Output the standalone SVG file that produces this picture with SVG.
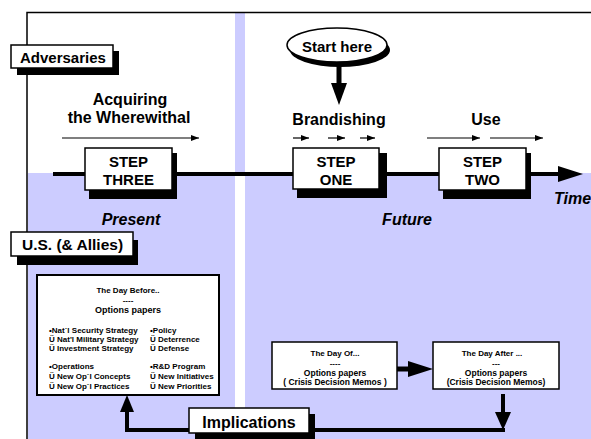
<svg xmlns="http://www.w3.org/2000/svg" width="591" height="439" viewBox="0 0 591 439">
  <style>
    text { font-family: "Liberation Sans", Arial, sans-serif; font-weight: bold; fill: #000; }
    .lbl { font-size: 15px; }
    .cap { font-size: 16px; text-anchor: middle; }
    .step { font-size: 15px; text-anchor: middle; }
    .it { font-style: italic; font-size: 16px; }
    .mid { text-anchor: middle; }
    .sm { font-size: 8px; }
    .md { font-size: 9px; }
    .memo { font-size: 8.5px; }
    .box { fill: #fff; stroke: #000; stroke-width: 1.5; }
    .shadow { fill: #000; }
    .thin { stroke: #000; stroke-width: 1.2; fill: none; }
    .thick { stroke: #000; stroke-width: 4; fill: none; }
  </style>
  <defs>
    <marker id="head" viewBox="0 0 8 6" refX="8" refY="3" markerWidth="8" markerHeight="6" markerUnits="userSpaceOnUse" orient="auto">
      <path d="M0,0 L8,3 L0,6 Z" fill="#000"/>
    </marker>
  </defs>

  <!-- background zones -->
  <rect x="0" y="0" width="591" height="439" fill="#fff"/>
  <rect x="235" y="12" width="10" height="162" fill="#ccccff"/>
  <rect x="28" y="173" width="207" height="266" fill="#ccccff"/>
  <rect x="245" y="173" width="346" height="266" fill="#ccccff"/>
  <!-- frame -->
  <path d="M27,439 V12.5 H591" stroke="#000" stroke-width="1.5" fill="none"/>

  <!-- connectors -->
  <g id="connectors">
    <!-- time axis -->
    <line x1="53" y1="174" x2="560" y2="174" class="thick"/>
    <polygon points="558,166 583,174 558,182" fill="#000"/>
    <!-- start here arrow -->
    <line x1="339" y1="62" x2="339" y2="85" stroke="#000" stroke-width="5"/>
    <polygon points="331,83 347,83 339,105" fill="#000"/>
    <!-- phase arrows -->
    <line x1="62" y1="138" x2="199" y2="138" class="thin" marker-end="url(#head)"/>
    <line x1="293" y1="138" x2="309" y2="138" class="thin" marker-end="url(#head)"/>
    <line x1="328" y1="138" x2="345" y2="138" class="thin" marker-end="url(#head)"/>
    <line x1="360" y1="138" x2="375" y2="138" class="thin" marker-end="url(#head)"/>
    <line x1="427" y1="138" x2="480" y2="138" class="thin" marker-end="url(#head)"/>
    <line x1="490" y1="138" x2="543" y2="138" class="thin" marker-end="url(#head)"/>
    <!-- day of to day after -->
    <line x1="397" y1="369" x2="410" y2="369" stroke="#000" stroke-width="5"/>
    <polygon points="408,361 433,369 408,377" fill="#000"/>
    <!-- feedback loop -->
    <path d="M503,394 V414" stroke="#000" stroke-width="4"/>
    <polygon points="495,412 511,412 503,430" fill="#000"/>
    <path d="M505,430 H127 V410" class="thick"/>
    <polygon points="120,412 134,412 127,395" fill="#000"/>
  </g>

  <!-- phase captions -->
  <g id="phases">
    <text class="cap" x="130" y="105">Acquiring</text>
    <text class="cap" x="129" y="123">the Wherewithal</text>
    <text class="cap" x="339" y="125">Brandishing</text>
    <text class="cap" x="486" y="125">Use</text>
    <text class="it mid" x="131" y="225">Present</text>
    <text class="it mid" x="407" y="225">Future</text>
    <text class="it" x="554" y="204">Time</text>
  </g>

  <g id="adversaries">
    <rect class="shadow" x="17" y="51" width="102" height="24"/>
    <rect class="box" x="11" y="45" width="102" height="23"/>
    <text class="lbl" x="20" y="63">Adversaries</text>
  </g>

  <g id="allies">
    <rect class="shadow" x="17" y="240" width="121" height="25"/>
    <rect class="box" x="11" y="232" width="122" height="24"/>
    <text class="lbl" style="font-size:15.5px" x="22" y="250">U.S. (&amp; Allies)</text>
  </g>

  <g id="start-here">
    <ellipse cx="340" cy="50" rx="50" ry="17" fill="#000"/>
    <ellipse cx="337" cy="45" rx="50" ry="17" fill="#fff" stroke="#000" stroke-width="1.5"/>
    <text class="lbl mid" x="337" y="52">Start here</text>
  </g>

  <g id="step-three">
    <rect class="shadow" x="89" y="153" width="88" height="46"/>
    <rect class="box" x="85" y="148" width="87" height="42"/>
    <text class="step" x="128.5" y="167">STEP</text>
    <text class="step" x="128.5" y="185">THREE</text>
  </g>

  <g id="step-one">
    <rect class="shadow" x="297" y="153" width="90" height="45"/>
    <rect class="box" x="293" y="148" width="86" height="41"/>
    <text class="step" x="336" y="167">STEP</text>
    <text class="step" x="336" y="185">ONE</text>
  </g>

  <g id="step-two">
    <rect class="shadow" x="443" y="153" width="88" height="46"/>
    <rect class="box" x="439" y="148" width="87" height="42"/>
    <text class="step" x="482.5" y="167">STEP</text>
    <text class="step" x="482.5" y="185">TWO</text>
  </g>

  <g id="day-before">
    <rect x="37" y="275" width="182" height="120" fill="#fff" stroke="#000" stroke-width="2"/>
    <text class="sm mid" x="128" y="293">The Day  Before..</text>
    <text class="sm mid" x="128" y="303">----</text>
    <text class="md mid" x="128" y="313">Options papers</text>
    <text class="sm" x="49" y="333">•Nat`l Security Strategy</text>
    <text class="sm" x="49" y="342">Ü Nat'l Military Strategy</text>
    <text class="sm" x="49" y="351">Ü Investment Strategy</text>
    <text class="sm" x="49" y="369">•Operations</text>
    <text class="sm" x="49" y="379">Ü New Op`l Concepts</text>
    <text class="sm" x="49" y="389">Ü New Op`l Practices</text>
    <text class="sm" x="150" y="333">•Policy</text>
    <text class="sm" x="150" y="342">Ü Deterrence</text>
    <text class="sm" x="150" y="351">Ü Defense</text>
    <text class="sm" x="150" y="369">•R&amp;D Program</text>
    <text class="sm" x="150" y="379">Ü New Initiatives</text>
    <text class="sm" x="150" y="389">Ü New Priorities</text>
  </g>

  <g id="day-of">
    <rect x="272" y="342" width="125" height="47" fill="#fff" stroke="#000" stroke-width="1.5"/>
    <text class="sm mid" x="335" y="356">The Day Of...</text>
    <text class="sm mid" x="335" y="366">----</text>
    <text class="memo mid" x="335" y="376">Options papers</text>
    <text class="memo mid" x="335" y="385">( Crisis Decision Memos )</text>
  </g>

  <g id="day-after">
    <rect x="433" y="342" width="126" height="47" fill="#fff" stroke="#000" stroke-width="1.5"/>
    <text class="sm mid" x="492" y="356">The Day After ...</text>
    <text class="sm mid" x="496" y="366">---</text>
    <text class="memo mid" x="496" y="376">Options papers</text>
    <text class="memo mid" x="496" y="385">(Crisis Decision Memos)</text>
  </g>

  <g id="implications">
    <rect class="shadow" x="195" y="414" width="120" height="30"/>
    <rect class="box" x="189" y="408" width="120" height="25"/>
    <text class="mid" style="font-size:16px" x="249" y="428">Implications</text>
  </g>
</svg>
